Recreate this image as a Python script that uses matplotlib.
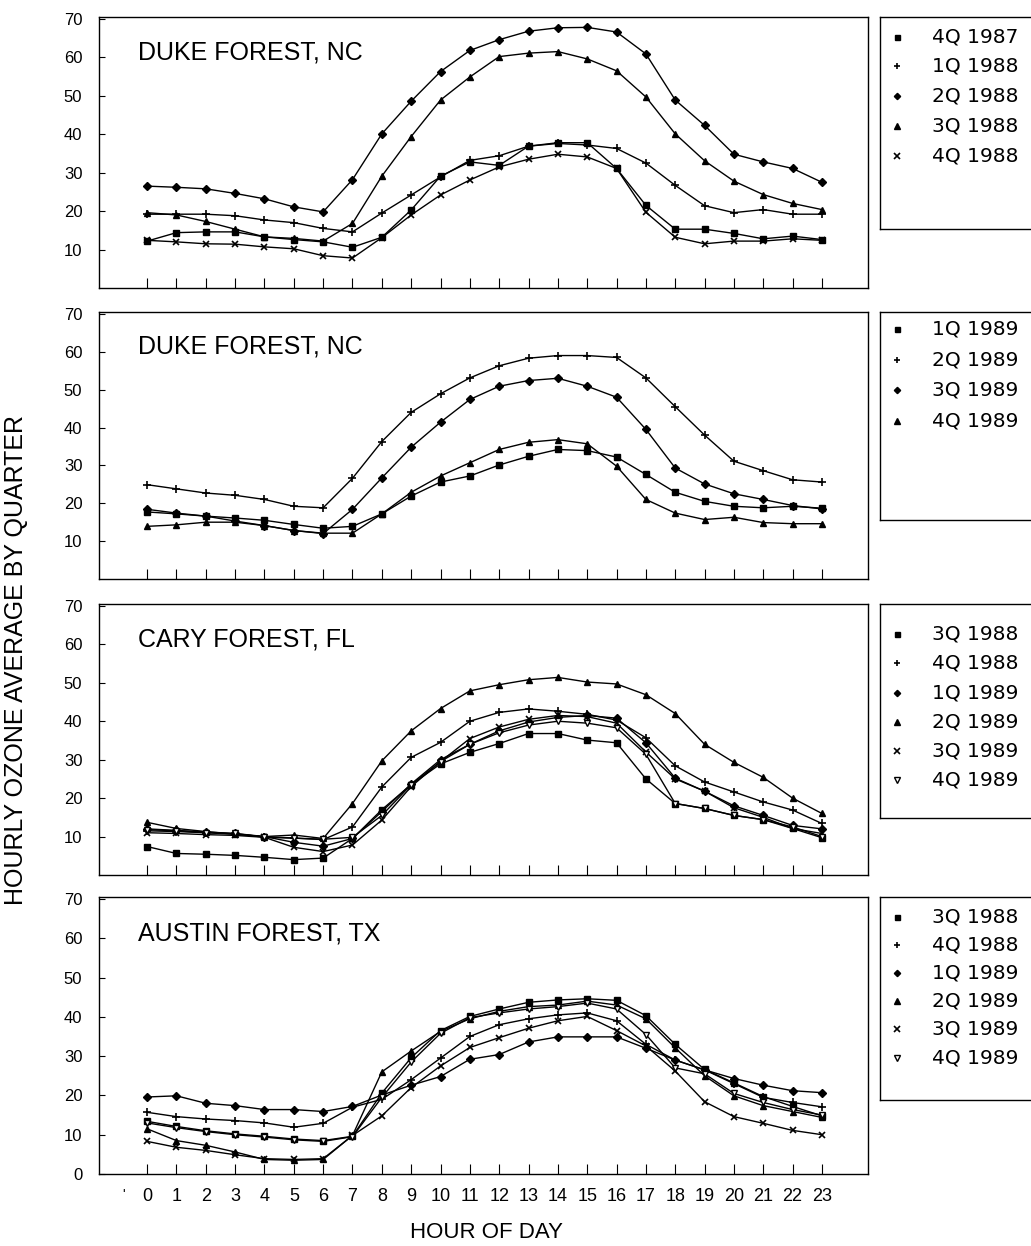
import matplotlib
matplotlib.use("Agg")
import matplotlib.pyplot as plt

W, H = 1031, 1246
HOURS = list(range(24))
HOUR_LABELS = [str(h) for h in HOURS]

# ---- Duke Forest, NC (1987-88) ----
duke1_site = "DUKE FOREST, NC"
duke1_labels = ["4Q 1987", "1Q 1988", "2Q 1988", "3Q 1988", "4Q 1988"]
duke1_q4_87 = [12.2, 14.4, 14.6, 14.6, 13.3, 12.6, 12.0, 10.6, 13.2, 20.3, 29.1, 32.8,
               31.9, 36.9, 37.8, 37.8, 31.1, 21.5, 15.3, 15.3, 14.2, 12.8, 13.5, 12.6]
duke1_q1_88 = [19.2, 19.2, 19.2, 18.8, 17.7, 17.0, 15.5, 14.6, 19.5, 24.2, 28.9, 33.2,
               34.4, 36.9, 37.6, 37.2, 36.3, 32.5, 26.7, 21.4, 19.6, 20.4, 19.2, 19.2]
duke1_q2_88 = [26.5, 26.2, 25.8, 24.6, 23.2, 21.1, 19.8, 28.2, 40.1, 48.6, 56.3, 61.8,
               64.6, 66.8, 67.7, 67.8, 66.6, 60.9, 48.9, 42.3, 34.8, 32.8, 31.1, 27.5]
duke1_q3_88 = [19.6, 19.0, 17.3, 15.3, 13.3, 12.9, 12.2, 16.8, 29.1, 39.4, 48.9, 54.9,
               60.2, 61.1, 61.5, 59.6, 56.5, 49.7, 40.1, 33.1, 27.8, 24.3, 22.0, 20.4]
duke1_q4_88 = [12.4, 12.0, 11.5, 11.4, 10.7, 10.2, 8.4, 7.8, 13.1, 19.0, 24.2, 28.1,
               31.5, 33.5, 34.8, 34.1, 31.1, 19.7, 13.2, 11.5, 12.2, 12.2, 12.8, 12.4]

# ---- Duke Forest, NC (1989) ----
duke2_site = "DUKE FOREST, NC"
duke2_labels = ["1Q 1989", "2Q 1989", "3Q 1989", "4Q 1989"]
duke2_q1_89 = [17.7, 17.2, 16.6, 16.1, 15.5, 14.4, 13.4, 13.9, 17.2, 21.9, 25.6, 27.2,
               30.1, 32.4, 34.2, 33.9, 32.2, 27.6, 22.9, 20.5, 19.2, 18.8, 19.2, 18.7]
duke2_q2_89 = [24.9, 23.8, 22.7, 22.1, 21.0, 19.2, 18.8, 26.6, 36.3, 44.0, 48.9, 53.1,
               56.3, 58.3, 59.0, 59.0, 58.5, 53.1, 45.5, 38.0, 31.1, 28.6, 26.2, 25.6]
duke2_q3_89 = [18.4, 17.4, 16.6, 15.3, 14.1, 12.8, 12.0, 18.4, 26.7, 34.8, 41.4, 47.4,
               50.9, 52.4, 53.0, 50.9, 48.0, 39.5, 29.3, 25.1, 22.5, 21.0, 19.4, 18.5]
duke2_q4_89 = [13.9, 14.3, 15.0, 15.0, 14.1, 12.8, 12.1, 12.1, 17.2, 22.9, 27.2, 30.7,
               34.2, 36.1, 36.8, 35.7, 29.8, 21.0, 17.4, 15.7, 16.3, 14.9, 14.6, 14.6]

# ---- Cary Forest, FL ----
cary_site = "CARY FOREST, FL"
cary_labels = ["3Q 1988", "4Q 1988", "1Q 1989", "2Q 1989", "3Q 1989", "4Q 1989"]
cary_q3_88 = [7.4, 5.6, 5.4, 5.1, 4.6, 4.0, 4.4, 9.5, 17.0, 23.5, 28.9, 31.9,
              34.2, 36.8, 36.8, 35.1, 34.4, 25.0, 18.6, 17.3, 15.5, 14.4, 12.1, 9.7]
cary_q4_88 = [11.5, 11.3, 11.0, 10.6, 10.0, 9.6, 9.2, 12.5, 22.9, 30.6, 34.5, 40.0,
              42.3, 43.2, 42.6, 41.8, 40.3, 35.7, 28.4, 24.2, 21.6, 19.0, 16.9, 13.4]
cary_q1_89 = [12.0, 11.6, 11.2, 10.8, 10.0, 8.5, 7.5, 9.5, 16.5, 23.7, 30.0, 34.0,
              37.5, 39.8, 41.0, 41.5, 40.8, 34.4, 25.2, 21.8, 18.0, 15.5, 12.9, 12.0]
cary_q2_89 = [13.7, 12.1, 11.3, 10.6, 10.0, 10.4, 9.5, 18.6, 29.7, 37.5, 43.3, 47.9,
              49.5, 50.8, 51.4, 50.2, 49.7, 46.9, 42.0, 34.0, 29.3, 25.4, 20.0, 16.0]
cary_q3_89 = [11.0, 10.8, 10.5, 10.3, 9.8, 7.2, 6.1, 7.8, 14.3, 23.0, 29.5, 35.5,
              38.5, 40.5, 41.5, 41.2, 39.5, 32.0, 25.0, 21.8, 17.5, 15.0, 12.1, 10.8]
cary_q4_89 = [11.8, 11.5, 11.0, 10.8, 9.8, 9.6, 9.3, 9.8, 15.5, 23.5, 29.5, 34.0,
              37.0, 39.0, 40.0, 39.5, 38.3, 31.4, 18.6, 17.3, 15.5, 14.4, 12.5, 10.0]

# ---- Austin Forest, TX ----
austin_site = "AUSTIN FOREST, TX"
austin_labels = ["3Q 1988", "4Q 1988", "1Q 1989", "2Q 1989", "3Q 1989", "4Q 1989"]
austin_q3_88 = [13.4, 12.1, 11.0, 10.2, 9.6, 8.9, 8.5, 9.6, 20.6, 29.6, 36.5, 40.1,
                42.0, 43.7, 44.3, 44.6, 44.2, 40.3, 33.0, 26.6, 23.2, 19.7, 17.2, 14.8]
austin_q4_88 = [15.7, 14.6, 14.0, 13.6, 13.0, 11.9, 12.9, 17.0, 19.0, 24.0, 29.5, 35.0,
                38.0, 39.5, 40.5, 41.0, 39.0, 33.0, 29.0, 26.5, 23.0, 19.5, 18.2, 17.1]
austin_q1_89 = [19.6, 19.9, 18.0, 17.4, 16.4, 16.4, 15.9, 17.2, 20.1, 22.6, 24.8, 29.2,
                30.4, 33.6, 34.9, 34.9, 34.9, 32.0, 29.0, 26.5, 24.3, 22.6, 21.2, 20.7]
austin_q2_89 = [11.5, 8.5, 7.3, 5.6, 3.7, 3.5, 3.7, 9.8, 26.0, 31.3, 36.3, 39.5,
                41.4, 42.6, 43.0, 44.0, 43.0, 39.5, 32.1, 25.0, 19.9, 17.4, 15.9, 14.4]
austin_q3_89 = [8.3, 6.8, 6.0, 4.9, 3.9, 3.7, 3.9, 9.8, 14.8, 22.0, 27.5, 32.2,
                34.7, 37.1, 39.0, 40.1, 36.5, 32.6, 26.2, 18.4, 14.6, 12.9, 11.1, 10.0]
austin_q4_89 = [13.0, 11.8, 10.8, 10.0, 9.4, 8.7, 8.3, 9.5, 19.5, 28.5, 35.8, 39.8,
                41.0, 42.0, 42.6, 43.5, 42.0, 35.5, 27.0, 25.5, 20.5, 18.2, 16.4, 15.0]

# marker style for each symbol used in the original legends
STYLE = {
    "sq": dict(marker="s", ms=4.5, mfc="black"),
    "plus": dict(marker="+", ms=6, mew=1.2),
    "dia": dict(marker="D", ms=4, mfc="black"),
    "tri": dict(marker="^", ms=5, mfc="black"),
    "x": dict(marker="x", ms=5, mew=1.2),
    "tdn": dict(marker="v", ms=5, mfc="white"),
}

panels = [
    dict(site=duke1_site, labels=duke1_labels,
         series=[duke1_q4_87, duke1_q1_88, duke1_q2_88, duke1_q3_88, duke1_q4_88],
         syms=["sq", "plus", "dia", "tri", "x"],
         box=(17, 288), leg=(17, 229), leg_y=[37, 66, 96, 126, 156]),
    dict(site=duke2_site, labels=duke2_labels,
         series=[duke2_q1_89, duke2_q2_89, duke2_q3_89, duke2_q4_89],
         syms=["sq", "plus", "dia", "tri"],
         box=(312, 579), leg=(312, 520), leg_y=[329, 360, 390, 421]),
    dict(site=cary_site, labels=cary_labels,
         series=[cary_q3_88, cary_q4_88, cary_q1_89, cary_q2_89, cary_q3_89, cary_q4_89],
         syms=["sq", "plus", "dia", "tri", "x", "tdn"],
         box=(604, 875), leg=(604, 818), leg_y=[634, 663, 693, 722, 751, 780]),
    dict(site=austin_site, labels=austin_labels,
         series=[austin_q3_88, austin_q4_88, austin_q1_89, austin_q2_89, austin_q3_89, austin_q4_89],
         syms=["sq", "plus", "dia", "tri", "x", "tdn"],
         box=(897, 1174), leg=(897, 1100), leg_y=[917, 945, 973, 1001, 1029, 1058]),
]

SANS = ["Liberation Sans", "DejaVu Sans"]
WIDE = ["DejaVu Sans"]

AX_L, AX_R = 99, 868
LEG_L, LEG_R = 880, 1045


def frac_box(l, t, r, b):
    return [l / W, 1 - b / H, (r - l) / W, (b - t) / H]


fig = plt.figure(figsize=(W / 100, H / 100), dpi=100)

for i, p in enumerate(panels):
    top, bot = p["box"]
    ax = fig.add_axes(frac_box(AX_L, top, AX_R, bot))
    for vals, sym in zip(p["series"], p["syms"]):
        ax.plot(HOURS, vals, color="black", lw=1.0, mec="black", **STYLE[sym])
    ax.set_xlim(-1.64, 24.57)
    ax.set_ylim(0, 70.5)
    last = i == len(panels) - 1
    ax.set_yticks(range(0 if last else 10, 71, 10))
    ax.set_xticks(HOURS)
    ax.tick_params(axis="both", direction="in", color="black")
    ax.tick_params(axis="y", length=4, pad=12, labelsize=12)
    ax.tick_params(axis="x", length=7, pad=10, labelsize=13)
    for lab in ax.get_yticklabels():
        lab.set_family(SANS)
    if last:
        ax.set_xticklabels(HOUR_LABELS, family=SANS)
        ax.text(-0.8, -0.075, "'", transform=ax.get_xaxis_transform(),
                ha="center", va="center", fontsize=10, family=SANS)
    else:
        ax.set_xticklabels([])
    for s in ax.spines.values():
        s.set_linewidth(1.0)
    ax.text(-0.3, 61.3, p["site"], fontsize=18, family=SANS, va="center", ha="left")

    # legend drawn as its own framed box
    lt, lb = p["leg"]
    lax = fig.add_axes(frac_box(LEG_L, lt, LEG_R, lb))
    lax.set_xlim(LEG_L, LEG_R)
    lax.set_ylim(lb, lt)
    lax.set_xticks([])
    lax.set_yticks([])
    for s in lax.spines.values():
        s.set_linewidth(1.0)
    for lab, sym, yy in zip(p["labels"], p["syms"], p["leg_y"]):
        st = dict(STYLE[sym])
        st["ms"] = st["ms"] * 0.8
        lax.plot([897], [yy], color="black", mec="black", ls="none", **st)
        lax.text(932, yy, lab, fontsize=14.5, family=WIDE, va="center", ha="left")

fig.text(487 / W, 1 - 1232 / H, "HOUR OF DAY", fontsize=16, family=SANS,
         ha="center", va="center")
fig.text(16 / W, 1 - 660 / H, "HOURLY OZONE AVERAGE BY QUARTER", fontsize=18,
         family=SANS, rotation=90, ha="center", va="center")

fig.savefig("out.png", dpi=100)
